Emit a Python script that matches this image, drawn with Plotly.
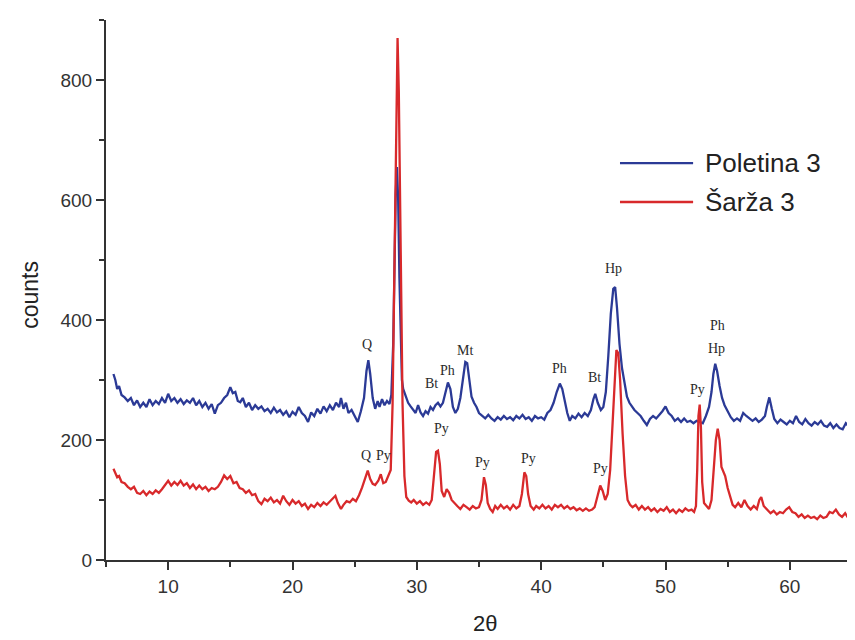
import plotly.graph_objects as go

# ---------------- data ----------------
two_theta_blue = [5.6, 5.75, 5.9, 6.05, 6.25, 6.5, 6.75, 7.0, 7.25, 7.5, 7.75, 8.0, 8.25, 8.5, 8.75, 9.0, 9.25, 9.5, 9.75,
                  10.0, 10.25, 10.5, 10.75, 11.0, 11.25, 11.5, 11.75, 12.0, 12.25, 12.5, 12.75, 13.0, 13.25, 13.5, 13.75,
                  14.0, 14.25, 14.5, 14.75, 15.0, 15.2, 15.4, 15.6, 15.8, 16.0, 16.25, 16.5, 16.75, 17.0, 17.25, 17.5,
                  17.75, 18.0, 18.25, 18.5, 18.75, 19.0, 19.25, 19.5, 19.75, 20.0, 20.25, 20.5, 20.75, 21.0, 21.25, 21.5,
                  21.75, 22.0, 22.25, 22.5, 22.75, 23.0, 23.25, 23.5, 23.75, 23.9, 24.1, 24.3, 24.5, 24.75, 25.0, 25.25,
                  25.5, 25.75, 25.95, 26.1, 26.25, 26.45, 26.65, 26.85, 27.0, 27.2, 27.4, 27.6, 27.8, 27.95, 28.1, 28.2,
                  28.3, 28.4, 28.5, 28.6, 28.7, 28.8, 28.9, 29.1, 29.3, 29.5, 29.7, 29.9, 30.1, 30.3, 30.5, 30.7, 30.9,
                  31.1, 31.3, 31.5, 31.7, 31.9, 32.1, 32.3, 32.5, 32.7, 32.9, 33.1, 33.3, 33.5, 33.7, 33.9, 34.05, 34.2,
                  34.4, 34.6, 34.8, 35.0, 35.25, 35.5, 35.75, 36.0, 36.25, 36.5, 36.75, 37.0, 37.25, 37.5, 37.75, 38.0,
                  38.25, 38.5, 38.75, 39.0, 39.25, 39.5, 39.75, 40.0, 40.25, 40.5, 40.75, 41.0, 41.25, 41.5, 41.7, 41.9,
                  42.1, 42.3, 42.5, 42.75, 43.0, 43.25, 43.5, 43.75, 44.0, 44.2, 44.35, 44.55, 44.8, 45.0, 45.2, 45.4,
                  45.6, 45.8, 45.95, 46.1, 46.3, 46.5, 46.7, 46.9, 47.1, 47.3, 47.5, 47.75, 48.0, 48.25, 48.5, 48.75,
                  49.0, 49.25, 49.5, 49.75, 50.0, 50.25, 50.5, 50.75, 51.0, 51.25, 51.5, 51.75, 52.0, 52.25, 52.5, 52.75,
                  53.0, 53.25, 53.5, 53.7, 53.85, 54.0, 54.15, 54.35, 54.55, 54.75, 55.0, 55.25, 55.5, 55.75, 56.0, 56.25,
                  56.5, 56.75, 57.0, 57.25, 57.5, 57.75, 58.0, 58.15, 58.35, 58.55, 58.75, 59.0, 59.25, 59.5, 59.75, 60.0,
                  60.25, 60.5, 60.75, 61.0, 61.25, 61.5, 61.75, 62.0, 62.25, 62.5, 62.75, 63.0, 63.25, 63.5, 63.75, 64.0,
                  64.25, 64.5, 64.75, 64.9]
counts_poletina = [310, 300, 285, 290, 275, 271, 265, 270, 258, 266, 255, 262, 255, 268, 258, 265, 260, 270, 262,
                   277, 265, 270, 262, 268, 260, 266, 262, 270, 258, 265, 255, 262, 252, 260, 244,
                   258, 262, 270, 275, 288, 278, 280, 265, 263, 270, 255, 262, 250, 258, 252, 256,
                   248, 252, 245, 254, 246, 250, 242, 248, 238, 247, 242, 255, 245, 240, 230, 246,
                   240, 252, 244, 256, 248, 258, 250, 262, 255, 270, 252, 262, 245, 250, 240, 230,
                   248, 270, 315, 333, 310, 270, 252, 265, 255, 268, 258, 265, 260, 275, 360, 480,
                   610, 655, 600, 470, 360, 300, 285, 272, 262, 256, 250, 245, 258, 246, 240, 248, 244,
                   255, 250, 258, 262, 256, 262, 280, 296, 285, 255, 245, 252, 270, 305, 330, 328, 300,
                   272, 262, 255, 245, 240, 236, 242, 236, 232, 238, 234, 240, 235, 238, 233, 240,
                   236, 242, 235, 238, 232, 240, 236, 238, 234, 245, 250, 262, 280, 294, 285, 262,
                   245, 232, 240, 236, 244, 238, 245, 240, 250, 268, 277, 262, 250, 255, 280, 340,
                   410, 452, 455, 420, 360, 320, 295, 272, 262, 255, 250, 245, 240, 232, 225, 235,
                   240, 236, 242, 248, 256, 245, 240, 232, 236, 230, 236, 230, 232, 228, 232, 230,
                   228, 240, 255, 280, 310, 327, 315, 290, 270, 258, 248, 238, 232, 236, 232, 245,
                   240, 236, 232, 236, 230, 234, 240, 255, 271, 252, 235, 228, 234, 230, 226, 232,
                   228, 240, 230, 226, 235, 228, 224, 230, 226, 232, 224, 222, 228, 220, 226, 220,
                   218, 228, 222, 225]

two_theta_red = [5.6, 5.75, 5.9, 6.05, 6.25, 6.5, 6.75, 7.0, 7.25, 7.5, 7.75, 8.0, 8.25, 8.5, 8.75, 9.0, 9.25, 9.5, 9.75,
                 10.0, 10.25, 10.5, 10.75, 11.0, 11.25, 11.5, 11.75, 12.0, 12.25, 12.5, 12.75, 13.0, 13.25, 13.5, 13.75,
                 14.0, 14.25, 14.5, 14.75, 15.0, 15.25, 15.5, 15.75, 16.0, 16.25, 16.5, 16.75, 17.0, 17.25, 17.5, 17.75,
                 18.0, 18.25, 18.5, 18.75, 19.0, 19.25, 19.5, 19.75, 20.0, 20.25, 20.5, 20.75, 21.0, 21.25, 21.5, 21.75,
                 22.0, 22.25, 22.5, 22.75, 23.0, 23.25, 23.45, 23.65, 23.9, 24.1, 24.35, 24.6, 24.85, 25.1, 25.35, 25.6,
                 25.85, 26.05, 26.25, 26.45, 26.65, 26.9, 27.1, 27.3, 27.5, 27.7, 27.9, 28.05, 28.2, 28.35, 28.45, 28.55,
                 28.7, 28.85, 29.0, 29.15, 29.35, 29.55, 29.75, 30.0, 30.25, 30.5, 30.75, 31.0, 31.2, 31.4, 31.55, 31.7,
                 31.85, 32.0, 32.2, 32.4, 32.6, 32.8, 33.0, 33.25, 33.5, 33.75, 34.0, 34.25, 34.5, 34.75, 35.0, 35.2,
                 35.4, 35.55, 35.7, 35.9, 36.1, 36.3, 36.5, 36.75, 37.0, 37.25, 37.5, 37.75, 38.0, 38.25, 38.45, 38.65,
                 38.8, 38.95, 39.15, 39.4, 39.6, 39.85, 40.1, 40.35, 40.6, 40.85, 41.1, 41.35, 41.6, 41.85, 42.1, 42.35,
                 42.6, 42.85, 43.1, 43.35, 43.6, 43.85, 44.1, 44.3, 44.55, 44.75, 44.95, 45.15, 45.35, 45.55, 45.75, 45.9,
                 46.05, 46.2, 46.35, 46.55, 46.75, 46.95, 47.15, 47.35, 47.6, 47.85, 48.1, 48.35, 48.6, 48.85, 49.1, 49.35,
                 49.6, 49.85, 50.1, 50.35, 50.6, 50.85, 51.1, 51.35, 51.6, 51.85, 52.1, 52.3, 52.45, 52.55, 52.65, 52.75,
                 52.85, 52.95, 53.1, 53.3, 53.5, 53.7, 53.9, 54.05, 54.2, 54.35, 54.5, 54.65, 54.8, 55.0, 55.2, 55.4,
                 55.6, 55.85, 56.1, 56.35, 56.6, 56.85, 57.1, 57.35, 57.55, 57.7, 57.9, 58.2, 58.45, 58.7, 58.95, 59.2,
                 59.45, 59.7, 59.95, 60.2, 60.45, 60.7, 60.95, 61.2, 61.45, 61.7, 61.95, 62.2, 62.45, 62.7, 62.95, 63.2,
                 63.45, 63.7, 63.95, 64.2, 64.45, 64.7, 64.9]
counts_sarza = [152, 145, 138, 140, 130, 128, 122, 118, 122, 112, 110, 115, 108, 114, 110, 116, 112, 118, 125,
                132, 124, 130, 125, 132, 124, 128, 120, 126, 118, 124, 118, 122, 115, 120, 118,
                122, 130, 141, 135, 140, 128, 130, 120, 118, 112, 116, 108, 110, 98, 93, 102,
                98, 104, 96, 100, 94, 107, 98, 92, 100, 94, 98, 90, 94, 85, 92, 88,
                95, 90, 96, 92, 98, 104, 107, 95, 85, 92, 98, 96, 102, 98, 108, 121,
                135, 149, 135, 127, 125, 132, 143, 128, 130, 140, 150, 260, 520, 800, 870, 780,
                500, 260, 140, 105, 99, 96, 100, 94, 98, 92, 96, 92, 100, 140, 180, 182,
                160, 115, 105, 118, 112, 100, 95, 90, 85, 92, 88, 84, 90, 86, 88, 100,
                138, 125, 95, 85, 80, 90, 85, 92, 86, 90, 84, 92, 86, 90, 110, 146,
                140, 110, 90, 84, 90, 86, 92, 86, 90, 84, 92, 88, 92, 86, 90, 85,
                88, 83, 86, 82, 86, 82, 84, 88, 108, 124, 115, 100, 110, 150, 230, 300,
                350, 345, 300, 210, 140, 100, 92, 88, 92, 84, 90, 84, 88, 82, 86, 80,
                85, 82, 88, 80, 84, 78, 84, 80, 86, 82, 84, 80, 90, 150, 240, 259,
                220, 130, 95, 90, 85, 100, 150, 200, 219, 200, 155, 146, 140, 120, 105, 92,
                88, 95, 88, 100, 90, 84, 90, 85, 100, 105, 90, 84, 78, 82, 76, 80,
                78, 84, 88, 80, 78, 72, 76, 70, 74, 70, 72, 68, 74, 70, 72, 80,
                78, 84, 76, 72, 78, 70, 74]

series_names = ["Poletina 3", "Šarža 3"]
series_colors = ["#2b3a96", "#d8292b"]

# phase labels: text, 2theta, counts
label_text = ["Hp", "Q", "Bt", "Ph", "Mt", "Ph", "Bt", "Hp", "Py", "Hp", "Ph",
              "Q", "Py", "Py", "Py", "Py", "Py"]
label_x = [28.65, 26.0, 31.2, 32.5, 33.9, 41.5, 44.3, 45.85, 52.6, 54.1, 54.2,
           25.9, 27.3, 32.0, 35.3, 38.95, 44.8]
label_y = [902, 360, 294, 316, 349, 319, 305, 486, 285, 352, 391,
           175, 174, 219, 163, 169, 152]

x_ticks = [10, 20, 30, 40, 50, 60]
y_ticks = [0, 200, 400, 600, 800]

# ---------------- figure ----------------
fig = go.Figure()
fig.add_trace(go.Scatter(x=two_theta_blue, y=counts_poletina, mode="lines", name=series_names[0],
                         line=dict(color=series_colors[0], width=2.3), showlegend=False))
fig.add_trace(go.Scatter(x=two_theta_red, y=counts_sarza, mode="lines", name=series_names[1],
                         line=dict(color=series_colors[1], width=2.3), showlegend=False))

for t, xv, yv in zip(label_text, label_x, label_y):
    fig.add_annotation(x=xv, y=yv, text=t, showarrow=False, xref="x", yref="y",
                       font=dict(family="Liberation Serif", size=14, color="#2a2a2a"))

# manual legend (long sample lines as in the original)
leg_rows = [0.735, 0.663]
for name, col, yy in zip(series_names, series_colors, leg_rows):
    fig.add_shape(type="line", xref="paper", yref="paper", x0=0.689, x1=0.787, y0=yy, y1=yy,
                  line=dict(color=col, width=2.3))
    fig.add_annotation(xref="paper", yref="paper", x=0.800, y=yy, text=name, showarrow=False,
                       xanchor="left", yanchor="middle",
                       font=dict(family="Liberation Sans", size=26, color="#222222"))

# axis titles placed as text in paper coordinates
fig.add_annotation(xref="paper", yref="paper", x=0.508, y=-0.118, text="2θ", showarrow=False,
                   xanchor="center", yanchor="middle", font=dict(family="Liberation Sans", size=22, color="#222222"))
fig.add_annotation(xref="paper", yref="paper", x=-0.102, y=0.491, text="counts", showarrow=False,
                   textangle=-90, xanchor="center", yanchor="middle",
                   font=dict(family="Liberation Sans", size=23, color="#222222"))

axis_col = "#333333"
# the page body adds an 8 px offset, so margins are compensated
fig.update_layout(
    width=855, height=640,
    margin=dict(l=98, r=11, t=12, b=88, autoexpand=False),
    paper_bgcolor="white", plot_bgcolor="white",
    font=dict(family="Liberation Sans", color="#333333"),
    xaxis=dict(range=[5, 65], tickvals=x_ticks, ticks="outside", ticklen=8, tickwidth=2,
               tickcolor=axis_col, showline=True, linecolor=axis_col, linewidth=2, automargin=False,
               showgrid=False, zeroline=False, tickfont=dict(size=19, color="#333333"),
               minor=dict(dtick=5, tick0=0, ticks="outside", ticklen=5, tickwidth=2, tickcolor=axis_col,
                          showgrid=False)),
    yaxis=dict(range=[0, 900], tickvals=y_ticks, ticks="outside", ticklen=8, tickwidth=2,
               tickcolor=axis_col, showline=True, linecolor=axis_col, linewidth=2, automargin=False,
               showgrid=False, zeroline=False, tickfont=dict(size=19, color="#333333"),
               minor=dict(dtick=100, tick0=0, ticks="outside", ticklen=5, tickwidth=2, tickcolor=axis_col,
                          showgrid=False)),
)

fig.write_html("out.html")
